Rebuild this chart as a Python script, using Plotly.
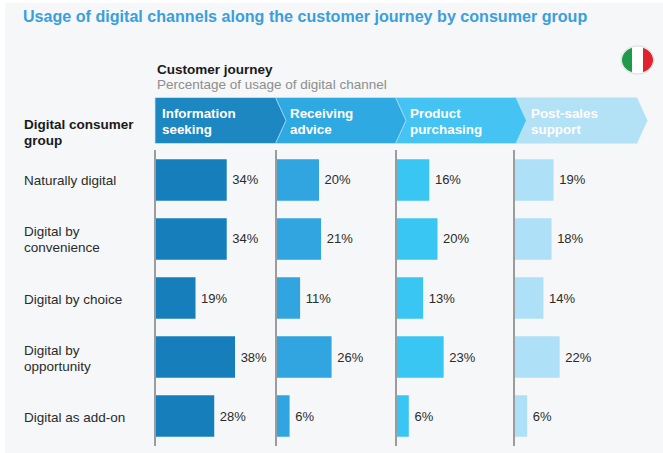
import math
import plotly.graph_objects as go
from plotly.subplots import make_subplots

W, H = 663, 453
FONT = "Liberation Sans"

# ---- data
groups = ["Naturally digital", "Digital by<br>convenience", "Digital by choice",
          "Digital by<br>opportunity", "Digital as add-on"]
channels = ["Information<br>seeking", "Receiving<br>advice", "Product<br>purchasing", "Post-sales<br>support"]
info_seeking = [34, 34, 19, 38, 28]
receiving_advice = [20, 21, 11, 26, 6]
product_purchasing = [16, 20, 13, 23, 6]
post_sales = [19, 18, 14, 22, 6]

bar_colors = ["#167FBB", "#31A5DF", "#3AC6F3", "#AEE1F8"]
head_colors = ["#1C87C1", "#2FA9E1", "#45C3F2", "#B3E1F6"]
panel_left = [156, 277, 396.5, 515]
panel_scale = [2.08, 2.1, 2.05, 2.03]  # px per percent, differs a little per column
head_left = [155, 275.5, 395.5, 516]
head_right = [275.5, 395.5, 516, 637]
head_text_x = [160, 288, 408, 529]
X_MAX = 55


def px(x):
    return x / W


def py(y):
    return 1 - y / H


def ellipse_slice(cx, cy, rx, ry, x0, x1):
    # outline of the part of an ellipse between two vertical chords
    pts = []
    for i in range(0, 361, 5):
        a = math.radians(i)
        pts.append((min(max(cx + rx * math.cos(a), x0), x1), cy + ry * math.sin(a)))
    return "M " + " L ".join(f"{px(x):.5f},{py(y):.5f}" for x, y in pts) + " Z"


fig = make_subplots(rows=1, cols=4)

for i, vals in enumerate([info_seeking, receiving_advice, product_purchasing, post_sales]):
    fig.add_trace(go.Bar(
        x=vals, y=groups, orientation="h", width=0.7,
        marker=dict(color=bar_colors[i], line=dict(width=0)),
        texttemplate="\u2009%{x}%", textposition="outside", cliponaxis=False,
        textfont=dict(family=FONT, size=13, color="#2B2B2B"),
        showlegend=False,
    ), row=1, col=i + 1)
    axis_n = "" if i == 0 else str(i + 1)
    fig.update_layout({
        f"xaxis{axis_n}": dict(domain=[px(panel_left[i]), px(panel_left[i] + panel_scale[i] * X_MAX)],
                               range=[0, X_MAX], visible=False, fixedrange=True),
        f"yaxis{axis_n}": dict(domain=[py(446), py(150)], range=[4.508, -0.508], type="category",
                               categoryorder="array", categoryarray=groups,
                               showticklabels=False, ticks="", showgrid=False, zeroline=False,
                               showline=True, linecolor="#9C9C9C", linewidth=2, fixedrange=True),
    })

shapes = [dict(type="rect", xref="paper", yref="paper", x0=px(5), x1=1, y0=0, y1=py(3),
               fillcolor="#F5F7F8", line_width=0, layer="below")]

# chevrons, last one first so each tip sits on top of the next one
for i in range(3, -1, -1):
    l, r = head_left[i], head_right[i]
    d = (f"M {px(l)},{py(97.5)} L {px(r)},{py(97.5)} L {px(r + 10.5)},{py(120.5)} "
         f"L {px(r)},{py(143.5)} L {px(l)},{py(143.5)} Z")
    shapes.append(dict(type="path", xref="paper", yref="paper", path=d, fillcolor=head_colors[i],
                       line=dict(color="rgba(190,232,250,0.8)", width=1 if i < 3 else 0), layer="below"))

# flag
cx, cy, rx, ry = 637.5, 60, 15.5, 13
shapes.append(dict(type="circle", xref="paper", yref="paper", x0=px(cx - rx - 1), x1=px(cx + rx + 1),
                   y0=py(cy + ry + 1), y1=py(cy - ry - 1), fillcolor="#FFFFFF",
                   line=dict(color="#DADADA", width=1)))
shapes.append(dict(type="path", xref="paper", yref="paper", line_width=0, fillcolor="#1E9A4A",
                   path=ellipse_slice(cx, cy, rx, ry, cx - rx, cx - 5.5)))
shapes.append(dict(type="path", xref="paper", yref="paper", line_width=0, fillcolor="#E0242F",
                   path=ellipse_slice(cx, cy, rx, ry, cx + 5.5, cx + rx)))


def label(text, x, y, size, color, bold=False, gap=15.5):
    # one annotation per line: plotly's own <br> spacing is wider than the reference
    lines = text.split("<br>")
    out = []
    for n, line in enumerate(lines):
        out.append(dict(text=f"<b>{line}</b>" if bold else line, x=px(x),
                        y=py(y + (n - (len(lines) - 1) / 2) * gap), xref="paper", yref="paper",
                        xanchor="left", yanchor="middle", align="left", showarrow=False,
                        font=dict(family=FONT, size=size, color=color)))
    return out


annotations = (
    label("Usage of digital channels along the customer journey by consumer group", 21, 16, 16.1, "#3A9FDC", True)
    + label("Customer journey", 155, 69, 13.5, "#1A1A1A", True)
    + label("Percentage of usage of digital channel", 155, 84, 13.5, "#8E8E8E")
    + label("Digital consumer<br>group", 22, 132.5, 13.5, "#1A1A1A", True)
)
for i, name in enumerate(channels):
    annotations += label(name, head_text_x[i], 121.5, 13.4, "#FFFFFF", True)
for g in groups:
    lines = g.split("<br>")
    for n, line in enumerate(lines):
        annotations.append(dict(text=line, x=px(22), y=g, xref="paper", yref="y", xanchor="left",
                                yanchor="middle", align="left", showarrow=False,
                                yshift=-1 - (n - (len(lines) - 1) / 2) * 16,
                                font=dict(family=FONT, size=13.5, color="#2B2B2B")))

fig.update_layout(
    width=W, height=H, margin=dict(l=0, r=0, t=0, b=0),
    paper_bgcolor="#FFFFFF", plot_bgcolor="rgba(0,0,0,0)",
    shapes=shapes, annotations=annotations, font=dict(family=FONT),
)

# the page's default body margin would push the figure off the window
fig.write_html("out.html", config=dict(displayModeBar=False),
               post_script="document.body.style.margin='0';document.body.style.overflow='hidden';")
